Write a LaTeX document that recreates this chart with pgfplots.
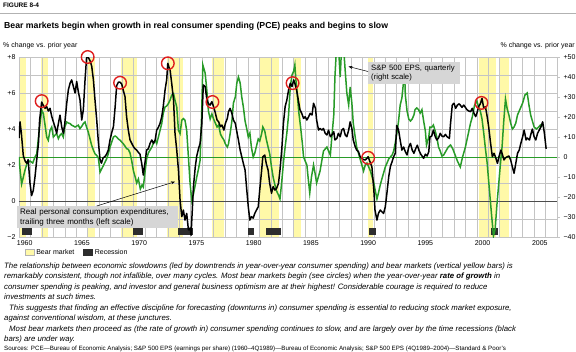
\documentclass[border=0pt]{standalone}
\usepackage{fontspec}
\setmainfont{Liberation Sans}
\usepackage{pgfplots}
\pgfplotsset{compat=1.18}
\usetikzlibrary{arrows.meta}
\definecolor{bearyellow}{RGB}{255,249,168}
\definecolor{epsgreen}{RGB}{40,155,40}
\definecolor{gridgray}{RGB}{196,196,196}
\definecolor{circred}{RGB}{222,30,30}
\definecolor{boxgray}{RGB}{214,214,214}
\definecolor{recess}{RGB}{45,45,45}
\pgfplotsset{
  base/.style={scale only axis, width=538pt, height=180pt, at={(19pt,-237pt)}, anchor=south west, xmin=1960, xmax=2007},
  leftax/.style={base, ymin=-2, ymax=8},
  rightax/.style={base, ymin=-40, ymax=50},
}
\newcommand{\bear}[2]{\addplot[fill=bearyellow, draw=none, forget plot] coordinates {(#1,-2) (#1,8) (#2,8) (#2,-2)} -- cycle;}
\newcommand{\recbar}[2]{\addplot[fill=recess, draw=none, forget plot] coordinates {(#1,-1.88) (#1,-1.5) (#2,-1.5) (#2,-1.88)} -- cycle;}
\begin{document}
\begin{tikzpicture}
\path[use as bounding box] (0,0) rectangle (576pt,-351pt);

% bear market bars
\begin{axis}[leftax, hide axis]
\bear{1960.0}{1960.6}
\bear{1961.95}{1962.5}
\bear{1966.05}{1966.6}
\bear{1968.95}{1970.3}
\bear{1972.95}{1974.35}
\bear{1976.85}{1977.9}
\bear{1981.05}{1982.7}
\bear{1983.95}{1984.6}
\bear{1990.5}{1990.9}
\bear{2000.2}{2001.65}
\bear{2001.98}{2002.8}
\end{axis}

% grid, left scale, recessions, legend
\begin{axis}[leftax,
  axis line style={gridgray},
  xtick={1960,1965,...,2005},
  xticklabels={1960,1965,1970,1975,1980,1985,1990,1995,2000,2005},
  minor xtick={1961,1962,...,2007},
  ytick={-2,0,2,4,6,8},
  yticklabels={−2,0,+2,+4,+6,+8},
  minor ytick={-1,1,3,5,7},
  grid=both,
  major grid style={gridgray, line width=0.5pt},
  minor grid style={gridgray, line width=0.5pt},
  major tick length=0pt, minor tick length=0pt,
  tick label style={font=\fontsize{7}{8}\selectfont},
  xticklabel style={xshift=5.72pt},
  ytick pos=left, xtick pos=bottom,
  legend image code/.code={\draw[#1] (0pt,-3pt) rectangle (9pt,3pt);},
  legend style={at={(0.005,-0.085)}, anchor=west, draw=none, fill=none,
    legend columns=-1, font=\fontsize{7}{8}\selectfont,
    /tikz/every even column/.append style={column sep=7pt}},
]
\recbar{1960.25}{1961.1}
\recbar{1969.98}{1970.85}
\recbar{1973.85}{1975.2}
\recbar{1980.02}{1980.52}
\recbar{1981.55}{1982.85}
\recbar{1990.55}{1991.2}
\recbar{2001.2}{2001.85}
\addplot[color=black!70, line width=1pt, forget plot] coordinates {(1960,0) (2007,0)};
\addlegendimage{fill=bearyellow, draw=gray!60}
\addlegendentry{Bear market}
\addlegendimage{fill=recess, draw=recess}
\addlegendentry{Recession}
\end{axis}

% right scale: S&P 500 EPS
\begin{axis}[rightax,
  axis x line=none,
  axis y line*=right,
  y axis line style={draw=none},
  ytick={-40,-30,...,50},
  yticklabels={−40,−30,−20,−10,0,+10,+20,+30,+40,+50},
  tick label style={font=\fontsize{7}{8}\selectfont},
  major tick length=3pt, tick align=outside,
  ytick style={gridgray, line width=0.6pt},
]
\addplot[epsgreen, line width=0.7pt] coordinates {(1960,0) (2007,0)};
\addplot[epsgreen, line width=1.5pt] coordinates {
(1960.0,0) (1960.1,-6.8) (1960.23,-13.5) (1960.38,-10) (1960.55,-6) (1960.7,-3.4) (1960.96,-2) (1961.2,-3) (1961.4,0) (1961.55,1.6) (1961.8,15) (1961.98,23.4)
(1962.13,21.7) (1962.3,15) (1962.42,10) (1962.56,8.4) (1962.71,13.3) (1962.86,15) (1963.0,10) (1963.15,11) (1963.29,11.7) (1963.44,9.2) (1963.58,10.9) (1963.73,11.7) (1963.87,10)
(1964.0,15) (1964.17,17.5) (1964.3,17) (1964.46,16.7) (1964.6,15.9) (1964.75,15.5) (1964.9,15) (1965.05,15.5) (1965.18,15.9) (1965.33,14.2) (1965.5,15.5) (1965.62,16.7) (1965.77,17.5) (1965.9,15)
(1966.05,12.5) (1966.2,9.2) (1966.35,5.8) (1966.5,3.4) (1966.65,1.5) (1966.79,0.8) (1966.93,-0.4) (1967.08,-7.6) (1967.22,-6) (1967.37,-4.3) (1967.52,-2.5) (1967.66,-0.9) (1967.8,1.6) (1967.95,4.9)
(1968.1,7.5) (1968.25,10) (1968.4,10.5) (1968.53,10) (1968.68,9) (1968.83,8.4) (1968.97,7.5) (1969.1,6.7) (1969.25,5.5) (1969.4,4.2) (1969.55,3.8) (1969.7,2) (1969.85,-2)
(1970.0,-7) (1970.15,-10) (1970.28,-13) (1970.43,-11) (1970.6,-16) (1970.75,-14) (1970.86,-15) (1971.0,-8) (1971.15,-1) (1971.3,2) (1971.45,3.5) (1971.6,4.9) (1971.75,7) (1971.9,8.4)
(1972.03,6.7) (1972.18,10) (1972.32,13.3) (1972.47,16.7) (1972.6,21.7) (1972.76,25) (1972.9,25.5) (1973.05,26.7) (1973.2,28.5) (1973.34,30.9) (1973.5,31.7) (1973.63,28.4) (1973.78,25) (1973.93,13.3)
(1974.07,11.7) (1974.22,18.4) (1974.36,19.2) (1974.5,18.4) (1974.65,13.3) (1974.8,0) (1974.95,-13.5) (1975.1,-21.9) (1975.24,-18.5) (1975.4,-14) (1975.53,-10) (1975.68,-6) (1975.82,-1.7) (1975.95,20)
(1976.06,46) (1976.26,42) (1976.4,34) (1976.55,23) (1976.7,19) (1976.85,21.5) (1977.0,19) (1977.15,17) (1977.3,15) (1977.44,16) (1977.6,11.5) (1977.73,10) (1977.9,8.5)
(1978.03,6.5) (1978.2,5) (1978.3,6.5) (1978.44,11.5) (1978.6,18) (1978.73,27) (1978.9,30) (1979.03,37) (1979.17,40) (1979.32,37) (1979.46,30) (1979.6,25) (1979.75,18) (1979.9,14)
(1980.03,10) (1980.17,12) (1980.3,5) (1980.46,0) (1980.6,2) (1980.75,5.5) (1980.9,9) (1981.03,8) (1981.2,11.7) (1981.3,15) (1981.47,13) (1981.6,9) (1981.76,5) (1981.9,1.7)
(1982.06,-5) (1982.2,-10) (1982.36,-14) (1982.5,-17) (1982.67,-19) (1982.8,-21) (1982.96,-12) (1983.1,-3) (1983.25,5) (1983.4,12) (1983.55,21) (1983.7,35) (1983.85,41)
(1984.0,43) (1984.1,46) (1984.2,38) (1984.3,32) (1984.45,22) (1984.6,15) (1984.75,7) (1984.86,0) (1985.0,-2) (1985.15,-4) (1985.27,-11) (1985.4,-18) (1985.55,-10) (1985.73,-4) (1985.86,-8)
(1986.0,-13) (1986.15,-10) (1986.3,-7) (1986.45,-2) (1986.6,3) (1986.75,4) (1986.9,5) (1987.04,3) (1987.2,1) (1987.33,10) (1987.5,21) (1987.6,40) (1987.77,58) (1987.9,56)
(1988.06,40) (1988.2,57) (1988.35,55) (1988.5,43) (1988.64,32) (1988.8,26) (1988.93,35) (1989.08,27) (1989.2,17) (1989.37,10) (1989.5,5) (1989.65,2) (1989.8,-1) (1989.95,-4)
(1990.1,-7) (1990.25,-4) (1990.4,-3) (1990.55,-5) (1990.7,-7) (1990.85,-10) (1991.0,-13) (1991.13,-17) (1991.27,-21) (1991.4,-18) (1991.56,-14) (1991.7,-11) (1991.85,-8)
(1992.0,-5) (1992.15,-3) (1992.3,-1) (1992.44,0) (1992.6,1) (1992.73,3) (1992.87,7) (1993.0,11.5) (1993.16,18) (1993.3,26) (1993.45,29.5) (1993.6,38) (1993.7,40) (1993.75,31) (1993.9,23)
(1994.05,19) (1994.2,18) (1994.35,19) (1994.5,21) (1994.6,23.7) (1994.75,24.5) (1994.9,23.7) (1995.05,22) (1995.2,23.7) (1995.35,18) (1995.5,13) (1995.6,6) (1995.8,10) (1995.9,15)
(1996.07,15) (1996.2,16) (1996.36,13) (1996.5,10) (1996.65,5) (1996.8,3) (1996.95,0.5) (1997.1,1) (1997.3,3) (1997.5,5) (1997.7,6) (1997.9,4)
(1998.1,1) (1998.3,-2) (1998.55,-5) (1998.75,0) (1999.0,5) (1999.15,9) (1999.3,13) (1999.45,17) (1999.6,20) (1999.8,26)
(2000.0,28) (2000.15,25) (2000.3,23) (2000.45,19) (2000.6,12) (2000.75,4) (2000.9,-3) (2001.0,-10) (2001.15,-20) (2001.3,-30) (2001.45,-39.5) (2001.6,-36) (2001.75,-24) (2001.9,-14)
(2002.05,-4) (2002.2,5) (2002.35,18) (2002.5,29) (2002.65,24) (2002.8,21) (2002.95,17) (2003.1,14) (2003.25,15) (2003.4,17) (2003.55,21) (2003.7,23) (2003.85,25)
(2004.0,27) (2004.2,31) (2004.4,32) (2004.55,26) (2004.7,21) (2004.85,18) (2005.0,15) (2005.2,14) (2005.4,15) (2005.55,16) (2005.7,15)
};
\end{axis}

% left scale: real PCE
\begin{axis}[leftax, hide axis]
\addplot[black, line width=1.5pt, line join=round] coordinates {
(1960.0,3.5) (1960.09,4.4) (1960.2,3.8) (1960.38,2.5) (1960.55,2.2) (1960.67,2.1) (1960.8,2.3) (1960.96,1.0) (1961.1,0.3) (1961.25,0.6) (1961.4,1.35) (1961.55,2.3) (1961.7,3.2) (1961.8,4.5) (1961.98,5.5)
(1962.13,5.3) (1962.28,5.15) (1962.42,5.24) (1962.56,5.0) (1962.71,5.15) (1962.86,4.7) (1963.0,4.4) (1963.15,4.1) (1963.29,3.76) (1963.44,4.3) (1963.58,4.77) (1963.73,4.13) (1963.87,3.76)
(1964.0,4.3) (1964.17,5.43) (1964.31,6.17) (1964.46,6.54) (1964.6,6.73) (1964.75,6.36) (1964.9,6.0) (1965.04,6.64) (1965.18,6.08) (1965.33,5.61) (1965.48,4.5) (1965.62,5.06) (1965.77,6.73) (1965.9,7.94)
(1966.0,8.05) (1966.2,7.8) (1966.35,7.5) (1966.5,6.73) (1966.64,5.61) (1966.79,4.5) (1966.93,3.3) (1967.08,2.3) (1967.2,2.1) (1967.35,2.4) (1967.5,2.46) (1967.65,2.6) (1967.8,2.83) (1967.95,3.39)
(1968.1,3.8) (1968.25,4.13) (1968.4,5.24) (1968.53,6.4) (1968.68,6.6) (1968.83,6.6) (1968.97,6.5) (1969.1,6.17) (1969.26,5.8) (1969.4,4.68) (1969.55,3.94) (1969.7,3.39) (1969.85,3.2)
(1970.0,3.02) (1970.14,2.9) (1970.28,2.83) (1970.43,2.7) (1970.57,2.6) (1970.72,2.09) (1970.86,1.44) (1971.0,2.1) (1971.15,2.83) (1971.3,2.9) (1971.45,3.2) (1971.6,3.39) (1971.75,3.2) (1971.9,3.4)
(1972.03,3.94) (1972.18,4.1) (1972.32,4.31) (1972.47,4.68) (1972.6,5.24) (1972.76,6.17) (1972.9,6.73) (1973.0,7.65) (1973.12,7.4) (1973.2,7.28) (1973.34,6.54) (1973.5,5.61) (1973.63,3.76) (1973.78,2.83) (1973.93,1.72)
(1974.07,0.06) (1974.22,-0.87) (1974.36,-0.5) (1974.5,-1.06) (1974.65,-0.69) (1974.8,-1.6) (1974.95,-1.5) (1975.03,-1.9) (1975.24,0.8) (1975.4,1.9) (1975.53,2.5) (1975.68,2.9) (1975.82,3.2) (1975.97,4.3)
(1976.1,6.45) (1976.26,6.36) (1976.4,5.7) (1976.55,5.4) (1976.7,5.33) (1976.85,5.52) (1977.0,5.24) (1977.15,4.9) (1977.3,4.5) (1977.44,4.4) (1977.6,4.13) (1977.73,4.22) (1977.9,3.94)
(1978.03,4.31) (1978.2,4.59) (1978.3,4.96) (1978.44,5.15) (1978.6,4.87) (1978.73,4.5) (1978.9,4.31) (1979.03,3.85) (1979.17,3.39) (1979.32,2.83) (1979.46,2.46) (1979.6,2.09) (1979.75,1.72) (1979.9,0.61)
(1980.03,-0.32) (1980.17,-1.06) (1980.3,-0.87) (1980.46,-0.95) (1980.6,-0.69) (1980.75,-0.5) (1980.9,-0.32) (1981.03,0.61) (1981.2,1.72) (1981.3,2.46) (1981.47,2.55) (1981.6,2.09) (1981.76,1.72) (1981.9,0.98)
(1982.06,0.43) (1982.2,0.8) (1982.36,0.61) (1982.5,0.7) (1982.67,0.98) (1982.8,1.72) (1982.96,2.9) (1983.1,4.31) (1983.25,5.24) (1983.4,5.61) (1983.55,6.17) (1983.7,6.54) (1983.85,6.36)
(1984.0,6.73) (1984.1,6.54) (1984.25,6.17) (1984.4,5.61) (1984.55,5.06) (1984.7,4.87) (1984.86,4.59) (1985.0,4.68) (1985.15,4.5) (1985.3,4.68) (1985.44,4.87) (1985.6,4.78) (1985.73,5.43) (1985.9,5.15)
(1986.0,4.5) (1986.17,3.94) (1986.3,4.03) (1986.46,3.94) (1986.6,4.03) (1986.75,3.76) (1986.9,3.67) (1987.04,3.94) (1987.2,3.57) (1987.33,3.67) (1987.5,3.85) (1987.6,3.39) (1987.77,3.48) (1987.9,3.76)
(1988.06,3.57) (1988.2,3.94) (1988.35,4.03) (1988.5,3.67) (1988.64,3.57) (1988.8,3.94) (1988.93,4.4) (1989.08,4.03) (1989.2,3.39) (1989.37,3.02) (1989.5,2.83) (1989.66,2.74) (1989.8,2.46) (1989.95,2.37)
(1990.1,2.3) (1990.25,2.28) (1990.4,2.37) (1990.5,2.46) (1990.65,2.2) (1990.83,1.9) (1991.0,0.61) (1991.1,-0.5) (1991.27,-1.06) (1991.4,-0.69) (1991.56,-0.5) (1991.7,-0.6) (1991.85,-0.69)
(1992.0,-0.32) (1992.14,0.43) (1992.3,1.35) (1992.44,1.9) (1992.6,2.2) (1992.73,2.46) (1992.87,2.65) (1993.0,4.2) (1993.16,3.94) (1993.3,3.39) (1993.45,2.83) (1993.6,3.0) (1993.75,2.74) (1993.9,2.56)
(1994.05,3.0) (1994.2,3.2) (1994.35,2.83) (1994.5,2.65) (1994.65,2.9) (1994.8,3.1) (1994.95,2.8) (1995.1,2.6) (1995.35,2.37) (1995.5,2.6) (1995.65,2.5) (1995.8,2.74) (1995.9,3.57)
(1996.05,3.6) (1996.2,3.94) (1996.35,3.6) (1996.5,3.39) (1996.65,3.5) (1996.8,3.76) (1996.95,3.6) (1997.1,3.57) (1997.25,3.7) (1997.4,3.57) (1997.6,3.48) (1997.7,4.31) (1997.85,5.33)
(1998.0,5.43) (1998.15,5.15) (1998.3,5.33) (1998.45,5.4) (1998.55,5.33) (1998.7,5.2) (1998.85,5.33) (1999.0,5.2) (1999.15,5.06) (1999.3,5.0) (1999.45,4.96) (1999.6,5.15) (1999.75,4.87) (1999.9,4.69)
(2000.0,4.87) (2000.15,5.24) (2000.3,5.4) (2000.45,5.7) (2000.6,5.15) (2000.75,5.24) (2000.9,4.69) (2001.03,4.13) (2001.2,3.2) (2001.35,2.46) (2001.5,2.65) (2001.65,2.4) (2001.8,2.09) (2001.93,2.46)
(2002.1,2.83) (2002.2,2.65) (2002.37,2.28) (2002.5,2.4) (2002.66,2.46) (2002.8,2.5) (2002.95,2.28) (2003.1,1.9) (2003.25,1.54) (2003.4,2.09) (2003.55,2.65) (2003.7,2.83) (2003.84,3.2)
(2004.0,3.57) (2004.13,3.94) (2004.3,3.39) (2004.4,3.5) (2004.6,3.39) (2004.7,3.67) (2004.85,4.0) (2005.0,3.57) (2005.15,3.39) (2005.3,3.76) (2005.45,3.94) (2005.6,4.13) (2005.75,4.4) (2005.9,3.76) (2006.05,2.9)
};
\addplot[only marks, mark=o, mark size=6.3pt, color=circred, mark options={line width=1.4pt}] coordinates {
(1961.98,5.55) (1966.0,8.0) (1968.83,6.57) (1973.0,7.65) (1976.9,5.5) (1983.9,6.55) (1990.5,2.4) (2000.4,5.45)
};
\end{axis}

% annotations
\node[fill=boxgray, anchor=north west, inner xsep=3pt, inner ysep=2.5pt, align=left, text width=86pt, font=\fontsize{7.7}{9.5}\selectfont] at (368pt,-62pt) {S\&P 500 EPS, quarterly\\(right scale)};
\draw[-{Stealth[length=4pt,width=3pt]}, line width=0.5pt] (368pt,-71.5pt) -- (348.5pt,-66.5pt);
\node[fill=boxgray, anchor=north west, inner xsep=3pt, inner ysep=2.5pt, align=left, text width=155pt, font=\fontsize{8}{9.5}\selectfont] at (17pt,-206pt) {Real personal consumption expenditures,\\trailing three months (left scale)};
\draw[-{Stealth[length=4pt,width=3pt]}, line width=0.5pt] (96.7pt,-206pt) -- (175pt,-181.7pt);

% header
\node[anchor=west, inner sep=0pt, font=\fontsize{6.5}{7}\selectfont\bfseries] at (3pt,-5.5pt) {FIGURE 8-4};
\draw[gray!60, line width=1.2pt] (0pt,-13.5pt) -- (576pt,-13.5pt);
\node[anchor=west, inner sep=0pt, font=\fontsize{8.7}{11}\selectfont\bfseries] at (4pt,-26pt) {Bear markets begin when growth in real consumer spending (PCE) peaks and begins to slow};
\node[anchor=west, inner sep=0pt, font=\fontsize{7}{8}\selectfont] at (3pt,-46pt) {\% change vs. prior year};
\node[anchor=east, inner sep=0pt, font=\fontsize{7}{8}\selectfont] at (575pt,-46pt) {\% change vs. prior year};

% caption
\begin{scope}[every node/.style={anchor=base west, inner sep=0pt, font=\fontsize{7.8}{10}\selectfont\itshape}]
\node at (4pt,-268pt) {The relationship between economic slowdowns (led by downtrends in year-over-year consumer spending) and bear markets (vertical yellow bars) is};
\node at (4pt,-278.5pt) {remarkably consistent, though not infallible, over many cycles. Most bear markets begin (see circles) when the year-over-year \textbf{rate of growth} in};
\node at (4pt,-289pt) {consumer spending is peaking, and investor and general business optimism are at their highest! Considerable courage is required to reduce};
\node at (4pt,-299.5pt) {investments at such times.};
\node at (9pt,-310pt) {This suggests that finding an effective discipline for forecasting (downturns in) consumer spending is essential to reducing stock market exposure,};
\node at (4pt,-320.5pt) {against conventional wisdom, at these junctures.};
\node at (9pt,-331pt) {Most bear markets then proceed as (the rate of growth in) consumer spending continues to slow, and are largely over by the time recessions (black};
\node at (4pt,-341.5pt) {bars) are under way.};
\end{scope}
\node[anchor=base west, inner sep=0pt, font=\fontsize{6.2}{7}\selectfont] at (4pt,-350pt) {Sources: PCE—Bureau of Economic Analysis; S\&P 500 EPS (earnings per share) (1960–4Q1989)—Bureau of Economic Analysis; S\&P 500 EPS (4Q1989–2004)—Standard \& Poor's};
\end{tikzpicture}
\end{document}
